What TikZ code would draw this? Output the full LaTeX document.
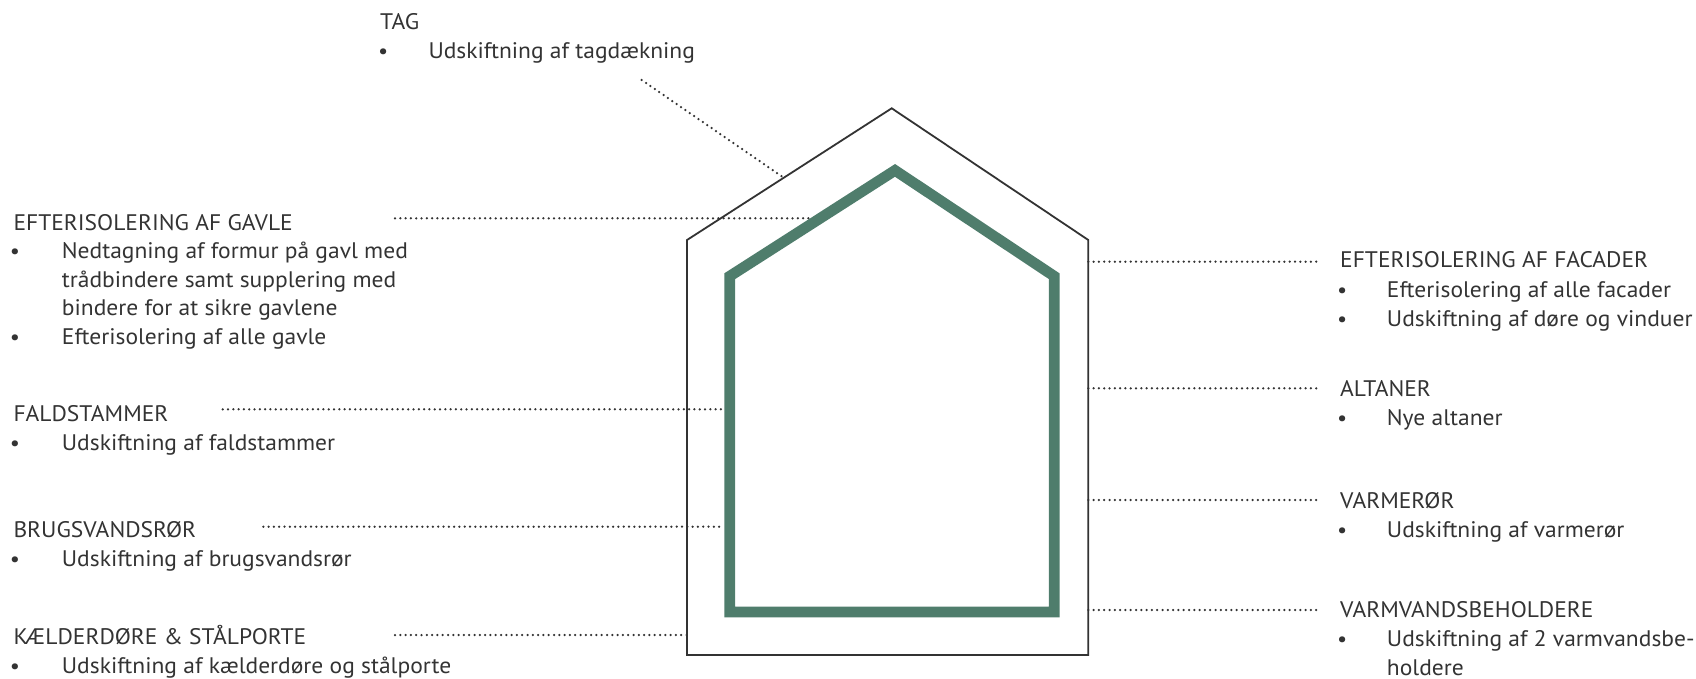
\documentclass[tikz,border=0pt]{standalone}
\usepackage{fontspec}
\setmainfont[FakeStretch=1.045]{PT Sans}
\definecolor{tc}{HTML}{333333}
\definecolor{lc}{HTML}{333333}
\definecolor{gr}{HTML}{4F7D6C}
\begin{document}
\begin{tikzpicture}[x=1pt,y=-1pt,
  txt/.style={anchor=base west,inner sep=0pt,text=tc,font=\fontsize{22.5}{29}\selectfont},
  bul/.style={anchor=base,inner sep=0pt,text=tc,font=\fontsize{21.5}{29}\selectfont},
  leader/.style={draw=lc,line width=2.5pt,line cap=round,dash pattern=on 0pt off 5.3pt},
  outerhouse/.style={draw=lc,line width=1.8pt,line join=miter},
  innerhouse/.style={draw=gr,line width=10.7pt,line join=miter}]
\useasboundingbox (0,0) rectangle (1696,679);
% house
\draw[outerhouse] (687,240) -- (891.7,108.3) -- (1088.3,240) -- (1088.3,655) -- (687,655) -- cycle;
\draw[innerhouse] (729.7,276.2) -- (895,170.4) -- (1054.2,276.2) -- (1054.2,612) -- (729.7,612) -- cycle;
% TAG
\node[txt] (th) at (380,30) {TAG};
\node[bul] (tb) at (383.3,58.5) {•};
\node[txt] (t1) at (428.3,58.5) {Udskiftning af tagdækning};
% left
\node[txt] (gh) at (13.3,230) {EFTERISOLERING AF GAVLE};
\node[bul] (gb1) at (15,258.5) {•};
\node[txt] (g1) at (61.7,258.5) {Nedtagning af formur på gavl med};
\node[txt] (g2) at (61.7,287) {trådbindere samt supplering med};
\node[txt] (g3) at (61.7,315.5) {bindere for at sikre gavlene};
\node[bul] (gb2) at (15,344.5) {•};
\node[txt] (g4) at (61.7,344.5) {Efterisolering af alle gavle};
\node[txt] (fh) at (13.3,421.5) {FALDSTAMMER};
\node[bul] (fb) at (15,450.5) {•};
\node[txt] (f1) at (61.7,450.5) {Udskiftning af faldstammer};
\node[txt] (bh) at (13.3,537.5) {BRUGSVANDSRØR};
\node[bul] (bb) at (15,566.5) {•};
\node[txt] (b1) at (61.7,566.5) {Udskiftning af brugsvandsrør};
\node[txt] (kh) at (13.3,644) {KÆLDERDØRE \& STÅLPORTE};
\node[bul] (kb) at (15,673) {•};
\node[txt] (k1) at (61.7,673) {Udskiftning af kælderdøre og stålporte};
% right
\node[txt] (ah) at (1340,267) {EFTERISOLERING AF FACADER};
\node[bul] (ab1) at (1342.3,297) {•};
\node[txt] (a1) at (1386.7,297) {Efterisolering af alle facader};
\node[bul] (ab2) at (1342.3,326) {•};
\node[txt] (a2) at (1386.7,326) {Udskiftning af døre og vinduer};
\node[txt] (lh) at (1340,396.7) {ALTANER};
\node[bul] (lb) at (1342.3,425.5) {•};
\node[txt] (l1) at (1386.7,425.5) {Nye altaner};
\node[txt] (vh) at (1340,508.3) {VARMERØR};
\node[bul] (vb) at (1342.3,537.5) {•};
\node[txt] (v1) at (1386.7,537.5) {Udskiftning af varmerør};
\node[txt] (wh) at (1340,617.7) {VARMVANDSBEHOLDERE};
\node[bul] (wb) at (1342.3,646.7) {•};
\node[txt] (w1) at (1386.7,646.7) {Udskiftning af 2 varmvandsbe-};
\node[txt] (w2) at (1386.7,675.5) {holdere};
% connector endpoints
\coordinate (tS) at (641.7,80);   \coordinate (tE) at (782.7,177);
\coordinate (gS) at (395,218.3);  \coordinate (gE) at (813,218.3);
\coordinate (fS) at (222.7,409.3);\coordinate (fE) at (724,409.3);
\coordinate (bS) at (263.3,526.7);\coordinate (bE) at (724,526.7);
\coordinate (kS) at (395,635);    \coordinate (kE) at (687,635);
\coordinate (aS) at (1088.3,261.7);\coordinate (aE) at (1320,261.7);
\coordinate (lS) at (1088.3,388.3);\coordinate (lE) at (1320,388.3);
\coordinate (vS) at (1088.3,500); \coordinate (vE) at (1320,500);
\coordinate (wS) at (1088.3,610); \coordinate (wE) at (1320,610);
\foreach \p in {t,g,f,b,k,a,l,v,w} \draw[leader] (\p S) -- (\p E);
\end{tikzpicture}
\end{document}
